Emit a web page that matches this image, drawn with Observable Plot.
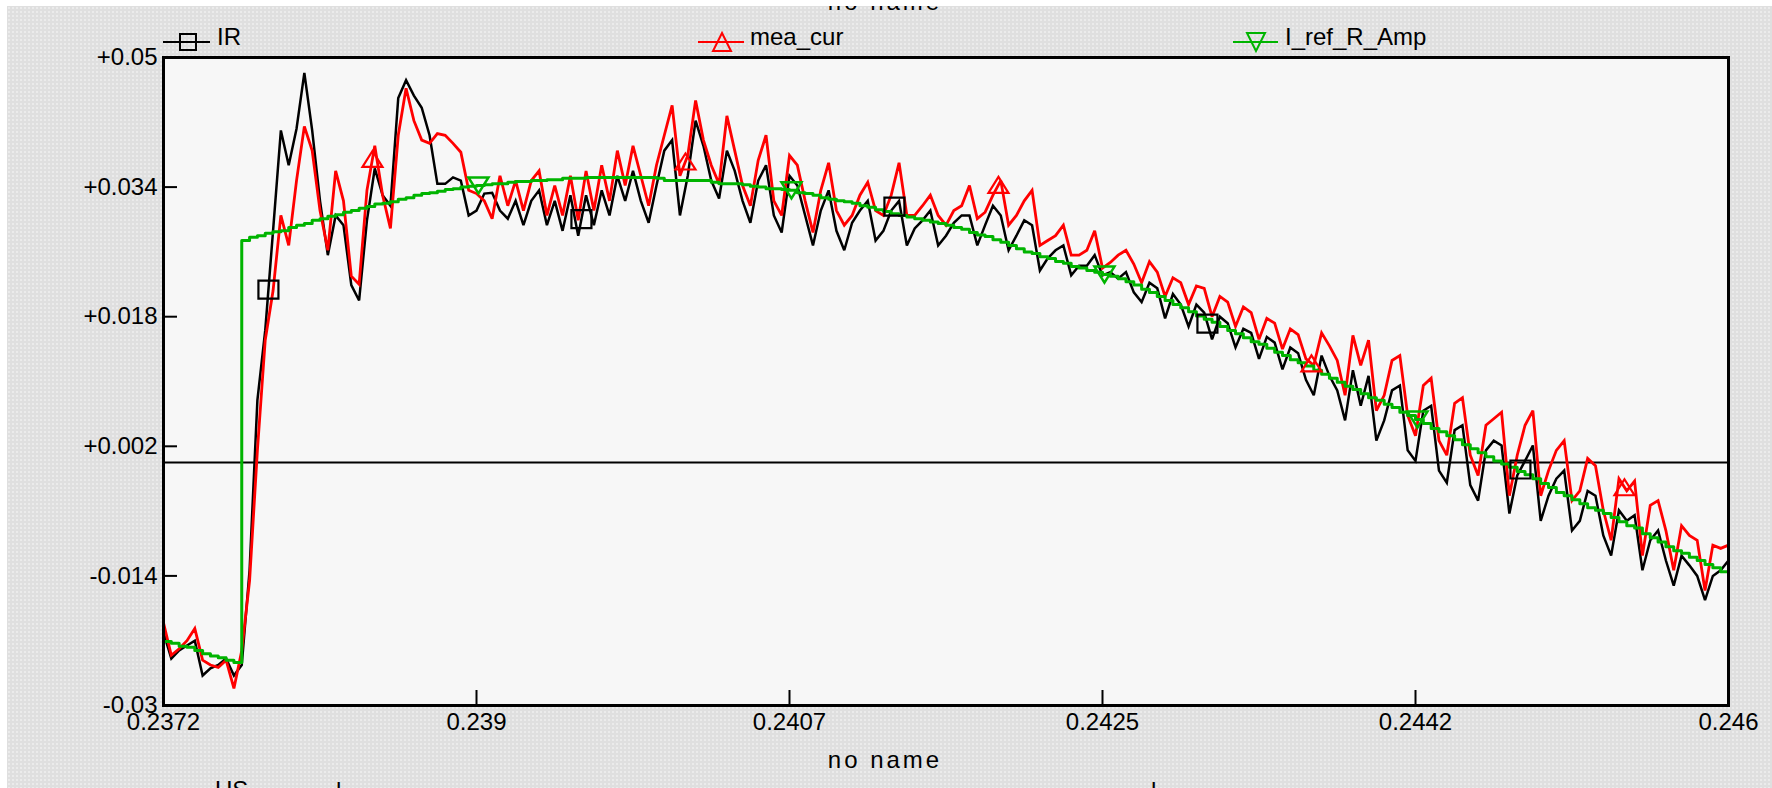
<!DOCTYPE html>
<html>
<head>
<meta charset="utf-8">
<script src="https://cdn.jsdelivr.net/npm/d3@7"></script>
<script src="https://cdn.jsdelivr.net/npm/@observablehq/plot@0.6"></script>
<style>
  html, body { margin: 0; padding: 0; }
  body { width: 1772px; height: 788px; overflow: hidden; position: relative; background: #ffffff;
         font-family: "Liberation Sans", Arial, sans-serif; color: #000; }
  #bg { position: absolute; left: 7px; top: 6px; right: 0; bottom: 0; background-color: #dfdfdf;
        background-image: radial-gradient(circle, #ebebeb 0.9px, transparent 1.1px); background-size: 4px 4px; }
  #chart { position: absolute; left: 0; top: 0; }
  .txt { position: absolute; font-size: 24px; line-height: 1; white-space: nowrap; }
  .white { position: absolute; background: #fff; z-index: 5; }
  .leg { position: absolute; }
</style>
</head>
<body>
<div id="bg"></div>
<div id="chart"></div>
<div class="txt" id="toptitle" style="left:885px; top:-10px; transform:translateX(-50%); letter-spacing:3px;">no name</div>
<div class="white" style="left:0; top:0; width:1772px; height:6px;"></div>
<div class="white" style="left:0; top:0; width:7px; height:788px;"></div>
<div class="txt" style="left:885px; top:748px; transform:translateX(-50%); letter-spacing:3px;">no name</div>
<div class="txt" style="left:215px; top:778px;">US</div>
<div class="txt" style="left:336px; top:779px;">l</div>
<div class="txt" style="left:1151px; top:779px;">l</div>
<div id="legend"></div>
<script>
// ---- data -------------------------------------------------------------
const T0 = 0.2372;          // first sample time
const DT = 0.000044;        // sample spacing

const irValues = [
  -0.0210, -0.0242, -0.0232, -0.0226, -0.0220, -0.0263, -0.0254, -0.0250, -0.0242, -0.0263, -0.0250,
  -0.0133, 0.0077, 0.0163, 0.0286, 0.0410, 0.0367, 0.0412, 0.0481, 0.0410, 0.0323,
  0.0256, 0.0305, 0.0293, 0.0219, 0.0200, 0.0299, 0.0363, 0.0330, 0.0317, 0.0450,
  0.0472, 0.0453, 0.0438, 0.0404, 0.0344, 0.0344, 0.0352, 0.0348, 0.0305, 0.0311,
  0.0332, 0.0333, 0.0311, 0.0301, 0.0323, 0.0293, 0.0323, 0.0336, 0.0293, 0.0323,
  0.0286, 0.0330, 0.0280, 0.0330, 0.0293, 0.0336, 0.0305, 0.0354, 0.0323, 0.0360,
  0.0323, 0.0296, 0.0342, 0.0385, 0.0398, 0.0305, 0.0354, 0.0422, 0.0391, 0.0348,
  0.0326, 0.0385, 0.0360, 0.0323, 0.0296, 0.0348, 0.0367, 0.0305, 0.0284, 0.0354,
  0.0342, 0.0305, 0.0268, 0.0311, 0.0336, 0.0286, 0.0262, 0.0296, 0.0311, 0.0323,
  0.0274, 0.0286, 0.0311, 0.0323, 0.0268, 0.0289, 0.0299, 0.0311, 0.0268, 0.0280,
  0.0296, 0.0305, 0.0305, 0.0268, 0.0293, 0.0317, 0.0305, 0.0262, 0.0280, 0.0299,
  0.0293, 0.0237, 0.0252, 0.0262, 0.0268, 0.0231, 0.0243, 0.0243, 0.0256, 0.0231,
  0.0235, 0.0227,
  0.0235, 0.0210, 0.0198, 0.0222, 0.0215, 0.0178, 0.0208, 0.0195, 0.0168, 0.0195, 0.0185, 0.0152,
  0.0180, 0.0172, 0.0142, 0.0165, 0.0160, 0.0128, 0.0155, 0.0148, 0.0115, 0.0142, 0.0135, 0.0102,
  0.0083, 0.0132, 0.0107, 0.0089, 0.0052, 0.0114, 0.0070, 0.0107, 0.0027, 0.0052, 0.0089, 0.0095,
  0.0015, 0.0002, 0.0064, 0.0070, -0.0010, -0.0025, 0.0040, 0.0046, -0.0028, -0.0047, 0.0015, 0.0027,
  0.0021, -0.0063, -0.0016, 0.0002, 0.0021, -0.0072, -0.0041, -0.0020, -0.0010, -0.0084, -0.0072, -0.0035,
  -0.0041, -0.0090, -0.0115, -0.0059, -0.0072, -0.0065, -0.0133, -0.0096, -0.0084, -0.0121, -0.0152, -0.0115,
  -0.0127, -0.0140, -0.0170, -0.0140, -0.0133, -0.0121
];

const meaCurValues = [
  -0.0198, -0.0238, -0.0230, -0.0220, -0.0205, -0.0244, -0.0250, -0.0253, -0.0244, -0.0279, -0.0232,
  -0.0146, 0.0015, 0.0151, 0.0212, 0.0305, 0.0268, 0.0348, 0.0415, 0.0385, 0.0311,
  0.0262, 0.0360, 0.0323, 0.0230, 0.0220, 0.0336, 0.0391, 0.0330, 0.0289, 0.0404,
  0.0462, 0.0422, 0.0398, 0.0394, 0.0406, 0.0404, 0.0394, 0.0383, 0.0336, 0.0332,
  0.0323, 0.0301, 0.0354, 0.0317, 0.0348, 0.0311, 0.0348, 0.0360, 0.0305, 0.0342,
  0.0305, 0.0354, 0.0299, 0.0360, 0.0311, 0.0367, 0.0323, 0.0385, 0.0342, 0.0391,
  0.0354, 0.0317, 0.0367, 0.0404, 0.0441, 0.0354, 0.0379, 0.0447, 0.0398, 0.0367,
  0.0344, 0.0428, 0.0385, 0.0342, 0.0317, 0.0373, 0.0404, 0.0323, 0.0305, 0.0379,
  0.0367, 0.0323, 0.0284, 0.0336, 0.0370, 0.0311, 0.0293, 0.0305, 0.0330, 0.0346,
  0.0311, 0.0305, 0.0330, 0.0370, 0.0305, 0.0305, 0.0317, 0.0330, 0.0305, 0.0293,
  0.0311, 0.0317, 0.0342, 0.0301, 0.0309, 0.0330, 0.0348, 0.0293, 0.0305, 0.0323,
  0.0336, 0.0268, 0.0274, 0.0280, 0.0293, 0.0256, 0.0256, 0.0262, 0.0286, 0.0240,
  0.0247, 0.0256,
  0.0262, 0.0245, 0.0222, 0.0248, 0.0235, 0.0205, 0.0228, 0.0222, 0.0195, 0.0218, 0.0215, 0.0180,
  0.0205, 0.0198, 0.0168, 0.0192, 0.0185, 0.0152, 0.0178, 0.0172, 0.0140, 0.0165, 0.0158, 0.0128,
  0.0120, 0.0160, 0.0144, 0.0126, 0.0083, 0.0157, 0.0120, 0.0151, 0.0064, 0.0083, 0.0126, 0.0132,
  0.0058, 0.0033, 0.0095, 0.0104, 0.0027, 0.0009, 0.0073, 0.0080, 0.0009, -0.0016, 0.0046, 0.0054,
  0.0062, -0.0041, 0.0009, 0.0046, 0.0064, -0.0041, -0.0010, 0.0015, 0.0027, -0.0047, -0.0035, 0.0005,
  -0.0004, -0.0059, -0.0096, -0.0020, -0.0035, -0.0023, -0.0115, -0.0053, -0.0047, -0.0084, -0.0133, -0.0078,
  -0.0090, -0.0096, -0.0158, -0.0102, -0.0106, -0.0102
];

const iRefValues = [
  -0.0221, -0.0223, -0.0227, -0.0228, -0.0232, -0.0236, -0.0239, -0.0241, -0.0244, -0.0247, 0.0274,
  0.0278, 0.0280, 0.0283, 0.0285, 0.0286, 0.0290, 0.0293, 0.0295, 0.0299, 0.0301,
  0.0304, 0.0306, 0.0309, 0.0311, 0.0314, 0.0316, 0.0319, 0.0320, 0.0322, 0.0325,
  0.0327, 0.0330, 0.0332, 0.0333, 0.0335, 0.0337, 0.0338, 0.0340, 0.0341, 0.0342,
  0.0343, 0.0344, 0.0344, 0.0346, 0.0347, 0.0347, 0.0348, 0.0348, 0.0349, 0.0349,
  0.0351, 0.0351, 0.0351, 0.0352, 0.0352, 0.0352, 0.0352, 0.0352, 0.0352, 0.0352,
  0.0352, 0.0352, 0.0351, 0.0348, 0.0348, 0.0348, 0.0348, 0.0348, 0.0348, 0.0346,
  0.0344, 0.0344, 0.0344, 0.0343, 0.0341, 0.0340, 0.0338, 0.0338, 0.0337, 0.0336,
  0.0333, 0.0332, 0.0330, 0.0327, 0.0325, 0.0323, 0.0322, 0.0320, 0.0317, 0.0315,
  0.0312, 0.0310, 0.0307, 0.0305, 0.0303, 0.0301, 0.0299, 0.0297, 0.0295, 0.0293,
  0.0290, 0.0288, 0.0284, 0.0281, 0.0279, 0.0275, 0.0272, 0.0268, 0.0264, 0.0260,
  0.0258, 0.0254, 0.0252, 0.0248, 0.0246, 0.0242, 0.0240, 0.0237, 0.0235, 0.0232,
  0.0230, 0.0227,
  0.0223, 0.0219, 0.0214, 0.0210, 0.0205, 0.0200, 0.0195, 0.0191, 0.0186, 0.0181, 0.0177, 0.0173,
  0.0168, 0.0163, 0.0159, 0.0154, 0.0149, 0.0146, 0.0141, 0.0136, 0.0132, 0.0127, 0.0123, 0.0119,
  0.0114, 0.0109, 0.0104, 0.0099, 0.0094, 0.0090, 0.0085, 0.0080, 0.0077, 0.0072, 0.0068, 0.0062,
  0.0058, 0.0053, 0.0048, 0.0042, 0.0038, 0.0033, 0.0028, 0.0022, 0.0017, 0.0012, 0.0007, 0.0002,
  -0.0002, -0.0006, -0.0011, -0.0015, -0.0020, -0.0026, -0.0031, -0.0037, -0.0041, -0.0046, -0.0051, -0.0056,
  -0.0059, -0.0063, -0.0068, -0.0073, -0.0078, -0.0081, -0.0088, -0.0093, -0.0098, -0.0104, -0.0109, -0.0112,
  -0.0117, -0.0121, -0.0126, -0.0130, -0.0135, -0.0138
];

const irMarkerTimes   = [0.23779, 0.23955, 0.24131, 0.24307, 0.24483];
const meaMarkerTimes  = [0.238375, 0.240135, 0.241895, 0.243655, 0.245415];
const refMarkerTimes  = [0.238971, 0.240731, 0.242491, 0.244251];

const xTicks      = [0.2372, 0.23896, 0.24072, 0.24248, 0.24424, 0.246];
const xTickLabels = ["0.2372", "0.239", "0.2407", "0.2425", "0.2442", "0.246"];
const yTicks      = [-0.03, -0.014, 0.002, 0.018, 0.034, 0.05];
const yTickLabels = ["-0.03", "-0.014", "+0.002", "+0.018", "+0.034", "+0.05"];

const seriesNames = ["IR", "mea_cur", "I_ref_R_Amp"];
const seriesColors = ["#000000", "#ff0000", "#00b400"];

// ---- helpers ----------------------------------------------------------
const rows = vals => vals.map((v, i) => ({t: T0 + i * DT, v}));
function valueAt(vals, t, stepAfter) {
  const f = (t - T0) / DT;
  const i = Math.max(0, Math.min(vals.length - 1, Math.floor(f)));
  if (stepAfter) return vals[i];
  const j = Math.min(vals.length - 1, i + 1);
  return vals[i] + (vals[j] - vals[i]) * (f - i);
}
const markers = (times, vals, stepAfter) => times.map(t => ({t, v: valueAt(vals, t, stepAfter)}));

const squareSym = {draw(ctx, size) { const r = Math.sqrt(size / Math.PI); const w = r, h = r * 0.9;
  ctx.moveTo(-w, -h); ctx.lineTo(w, -h); ctx.lineTo(w, h); ctx.lineTo(-w, h); ctx.closePath(); }};
const triUpSym = {draw(ctx, size) { const r = Math.sqrt(size / Math.PI);
  ctx.moveTo(0, -0.8 * r); ctx.lineTo(r, 0.8 * r); ctx.lineTo(-r, 0.8 * r); ctx.closePath(); }};
const triDownSym = {draw(ctx, size) { const r = Math.sqrt(size / Math.PI);
  ctx.moveTo(-r, -0.8 * r); ctx.lineTo(r, -0.8 * r); ctx.lineTo(0, 0.8 * r); ctx.closePath(); }};

const xLab = new Map(xTicks.map((d, i) => [d, xTickLabels[i]]));
const yLab = new Map(yTicks.map((d, i) => [d, yTickLabels[i]]));

const W = 1772, H = 788, ML = 163, MR = 44, MT = 57, MB = 83;
const FW = W - ML - MR, FH = H - MT - MB;

const chart = Plot.plot({
  width: W, height: H,
  marginLeft: ML, marginRight: MR, marginTop: MT, marginBottom: MB,
  x: {domain: [xTicks[0], xTicks[xTicks.length - 1]], label: null},
  y: {domain: [yTicks[0], yTicks[yTicks.length - 1]], label: null},
  style: {background: "transparent", fontFamily: '"Liberation Sans", Arial, sans-serif', fontSize: "24px", color: "#000", overflow: "visible"},
  marks: [
    Plot.frame({fill: "#f7f7f7", stroke: null}),
    Plot.ruleY([0], {stroke: "#000", strokeWidth: 2}),
    Plot.line(rows(irValues), {x: "t", y: "v", stroke: seriesColors[0], strokeWidth: 2.5, curve: "linear", strokeLinejoin: "miter", strokeMiterlimit: 3}),
    Plot.line(rows(meaCurValues), {x: "t", y: "v", stroke: seriesColors[1], strokeWidth: 2.8, curve: "linear", strokeLinejoin: "miter", strokeMiterlimit: 3}),
    Plot.line(rows(iRefValues), {x: "t", y: "v", stroke: seriesColors[2], strokeWidth: 3, curve: "step-after"}),
    Plot.dot(markers(irMarkerTimes, irValues, false), {x: "t", y: "v", symbol: squareSym, r: 10, stroke: seriesColors[0], strokeWidth: 2.2, fill: "none"}),
    Plot.dot(markers(meaMarkerTimes, meaCurValues, false), {x: "t", y: "v", symbol: triUpSym, r: 10, stroke: seriesColors[1], strokeWidth: 2.2, fill: "none"}),
    Plot.dot(markers(refMarkerTimes, iRefValues, true), {x: "t", y: "v", symbol: triDownSym, r: 10, stroke: seriesColors[2], strokeWidth: 2.5, fill: "none"}),
    Plot.tickY(yTicks, {y: d => d, insetRight: FW - 14, stroke: "#000", strokeWidth: 2}),
    Plot.tickX(xTicks, {x: d => d, insetTop: FH - 15, stroke: "#000", strokeWidth: 2}),
    Plot.axisY(yTicks, {tickSize: 0, tickPadding: 6, tickFormat: d => yLab.get(d), fontSize: 24}),
    Plot.axisX(xTicks, {tickSize: 0, tickPadding: 7, tickFormat: d => xLab.get(d), fontSize: 24}),
    Plot.frame({stroke: "#000", strokeWidth: 3})
  ]
});
document.getElementById("chart").appendChild(chart);

// ---- legend (top margin) ----------------------------------------------
const legendItems = [
  {name: seriesNames[0], color: seriesColors[0], x0: 163, x1: 210, mx: 188, text: 217, shape: "square"},
  {name: seriesNames[1], color: seriesColors[1], x0: 698, x1: 744, mx: 722, text: 750, shape: "up"},
  {name: seriesNames[2], color: seriesColors[2], x0: 1233, x1: 1278, mx: 1256, text: 1285, shape: "down"}
];
const legend = document.getElementById("legend");
for (const it of legendItems) {
  const w = it.x1 - it.x0 + 4;
  const svg = d3.create("svg").attr("class", "leg").attr("width", w).attr("height", 26)
    .style("left", (it.x0 - 2) + "px").style("top", "29px");
  const cx = it.mx - it.x0 + 2, cy = 13;
  svg.append("line").attr("x1", 2).attr("x2", w - 2).attr("y1", cy).attr("y2", cy)
    .attr("stroke", it.color).attr("stroke-width", 2);
  let p;
  if (it.shape === "square") p = `M${cx-8},${cy-8}H${cx+8}V${cy+8}H${cx-8}Z`;
  else if (it.shape === "up") p = `M${cx},${cy-9}L${cx+9},${cy+9}H${cx-9}Z`;
  else p = `M${cx-9},${cy-9}H${cx+9}L${cx},${cy+9}Z`;
  svg.append("path").attr("d", p).attr("fill", "none").attr("stroke", it.color).attr("stroke-width", 2);
  legend.appendChild(svg.node());
  const t = document.createElement("div");
  t.className = "txt";
  t.style.left = it.text + "px";
  t.style.top = "25px";
  t.textContent = it.name;
  legend.appendChild(t);
}
</script>
</body>
</html>
